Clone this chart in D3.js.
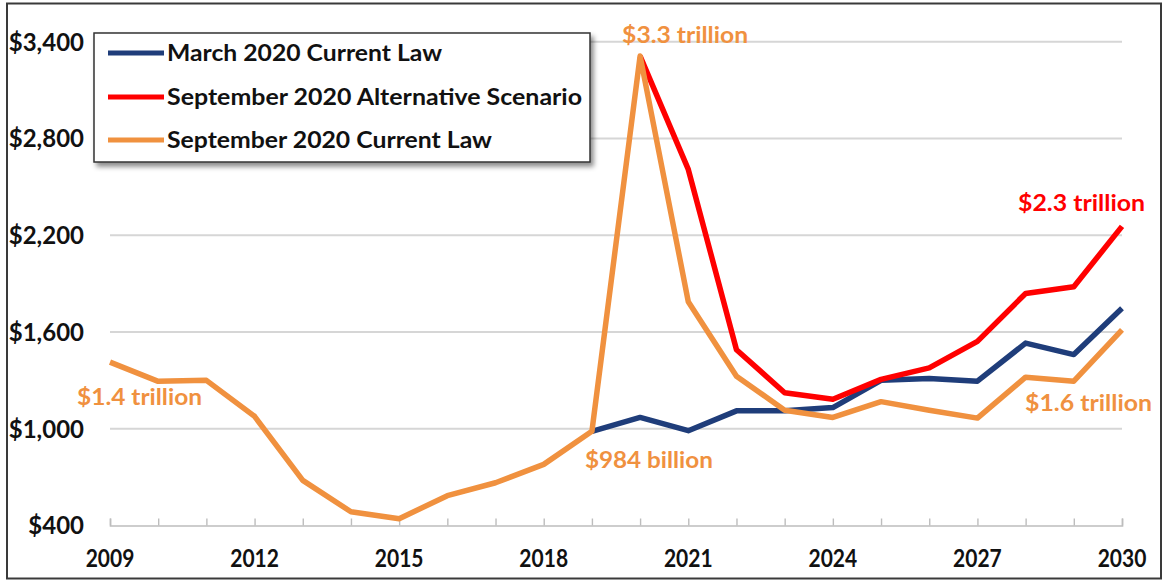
<!DOCTYPE html>
<html>
<head>
<meta charset="utf-8">
<script src="https://cdn.jsdelivr.net/npm/d3@7"></script>
<style>
  html, body { margin: 0; padding: 0; background: #fff; }
  svg { display: block; }
  text { font-family: Lato, "Open Sans", "Liberation Sans", sans-serif; font-weight: 700; }
</style>
</head>
<body>
<svg id="chart" width="1168" height="582"></svg>
<script>
// Federal budget deficits, billions of dollars
const years = d3.range(2009, 2031);
const marchCurrentLawYears = d3.range(2019, 2031);
const marchCurrentLaw = [984, 1070, 988, 1111, 1111, 1131, 1300, 1312, 1295, 1531, 1460, 1747];
const septAlternativeYears = d3.range(2020, 2031);
const septAlternative = [3311, 2608, 1490, 1223, 1183, 1306, 1377, 1542, 1839, 1880, 2255];
const septCurrentLaw = [1413, 1294, 1300, 1077, 680, 485, 442, 585, 665, 779, 984,
                        3311, 1788, 1326, 1115, 1070, 1168, 1115, 1066, 1320, 1295, 1613];
const yTicks = [400, 1000, 1600, 2200, 2800, 3400];
const xTickLabels = [2009, 2012, 2015, 2018, 2021, 2024, 2027, 2030];
const seriesNames = ["March 2020 Current Law", "September 2020 Alternative Scenario", "September 2020 Current Law"];
const seriesColors = ["#1f3d7a", "#ff0000", "#f0913f"];

const svg = d3.select("#chart");

const x = d3.scaleLinear().domain([2009, 2030]).range([110, 1122]);
const y = d3.scaleLinear().domain([400, 3400]).range([525.5, 41.7]);

// drop shadow for the legend box
const defs = svg.append("defs");
const f = defs.append("filter").attr("id", "shadow").attr("x", "-5%").attr("y", "-10%").attr("width", "115%").attr("height", "130%");
f.append("feDropShadow").attr("dx", 3).attr("dy", 4).attr("stdDeviation", 2.5).attr("flood-color", "#000").attr("flood-opacity", 0.45);

// outer frame
svg.append("rect").attr("x", 7).attr("y", 3.5).attr("width", 1154).attr("height", 575)
  .attr("fill", "none").attr("stroke", "#3a3a3a").attr("stroke-width", 2);

// gridlines
svg.append("g").selectAll("line").data(yTicks.filter(d => d > 400)).join("line")
  .attr("x1", x(2009)).attr("x2", x(2030))
  .attr("y1", d => y(d)).attr("y2", d => y(d))
  .attr("stroke", "#d6d6d6").attr("stroke-width", 2);

// x axis with inward year ticks
const xAxis = d3.axisBottom(x).tickValues(years).tickSize(-7).tickFormat("");
const gx = svg.append("g").attr("transform", `translate(0,${y(400)})`).call(xAxis);
gx.select(".domain").attr("stroke", "#bdbdbd").attr("stroke-width", 1.6);
gx.selectAll(".tick line").attr("stroke", "#bdbdbd").attr("stroke-width", 1.4);

svg.append("g").selectAll("text").data(xTickLabels).join("text")
  .attr("transform", d => `translate(${x(d)},567) scale(1,1.2)`)
  .attr("text-anchor", "middle")
  .attr("font-size", 21).attr("fill", "#111")
  .text(d => d);

// y axis labels
const yAxis = d3.axisLeft(y).tickValues(yTicks).tickSize(0).tickPadding(0)
  .tickFormat(d => "$" + d3.format(",")(d));
const gy = svg.append("g").attr("transform", "translate(84,0)").call(yAxis);
gy.select(".domain").remove();
gy.selectAll(".tick text").attr("font-size", 24).attr("fill", "#111")
  .attr("font-family", "Lato, 'Open Sans', sans-serif").attr("font-weight", 700).attr("dy", "0.35em");

// lines
const line = d3.line().x(d => x(d[0])).y(d => y(d[1]));
const seriesData = [
  d3.zip(marchCurrentLawYears, marchCurrentLaw),
  d3.zip(septAlternativeYears, septAlternative),
  d3.zip(years, septCurrentLaw)
];
svg.append("g").selectAll("path").data(seriesData).join("path")
  .attr("d", line)
  .attr("fill", "none")
  .attr("stroke", (d, i) => seriesColors[i])
  .attr("stroke-width", 5.5)
  .attr("stroke-linejoin", "round");

// value callouts
const callouts = [
  { text: "$1.4 trillion", year: 2009, value: septCurrentLaw[0], dx: -33, dy: 35, w: 125, color: "#f0913f" },
  { text: "$3.3 trillion", year: 2020, value: septCurrentLaw[11], dx: -18, dy: -21, w: 126, color: "#f0913f" },
  { text: "$984 billion", year: 2019, value: septCurrentLaw[10], dx: -7, dy: 29, w: 128, color: "#f0913f" },
  { text: "$2.3 trillion", year: 2030, value: septAlternative[10], dx: -104, dy: -23, w: 127, color: "#ff0000" },
  { text: "$1.6 trillion", year: 2030, value: septCurrentLaw[21], dx: -97, dy: 73, w: 127, color: "#f0913f" }
];
svg.append("g").selectAll("text").data(callouts).join("text")
  .attr("x", d => x(d.year) + d.dx)
  .attr("y", d => y(d.value) + d.dy)
  .attr("dy", "0.35em")
  .attr("font-size", 22)
  .attr("textLength", d => d.w).attr("lengthAdjust", "spacingAndGlyphs")
  .attr("fill", d => d.color)
  .text(d => d.text);

// legend
const legend = svg.append("g");
legend.append("rect").attr("x", 94).attr("y", 33).attr("width", 496).attr("height", 129)
  .attr("fill", "#fff").attr("stroke", "#333").attr("stroke-width", 1.5).attr("filter", "url(#shadow)");
const legendRows = [53, 97, 140];
const legendWidths = [275, 415, 325];
const items = legend.selectAll("g.item").data(seriesNames).join("g").attr("class", "item")
  .attr("transform", (d, i) => `translate(0,${legendRows[i]})`);
items.append("line").attr("x1", 108).attr("x2", 164).attr("y1", 0).attr("y2", 0)
  .attr("stroke", (d, i) => seriesColors[i]).attr("stroke-width", 5);
items.append("text").attr("x", 167).attr("dy", "0.35em")
  .attr("font-size", 22).attr("fill", "#111")
  .attr("textLength", (d, i) => legendWidths[i]).attr("lengthAdjust", "spacingAndGlyphs")
  .text(d => d);
</script>
</body>
</html>
